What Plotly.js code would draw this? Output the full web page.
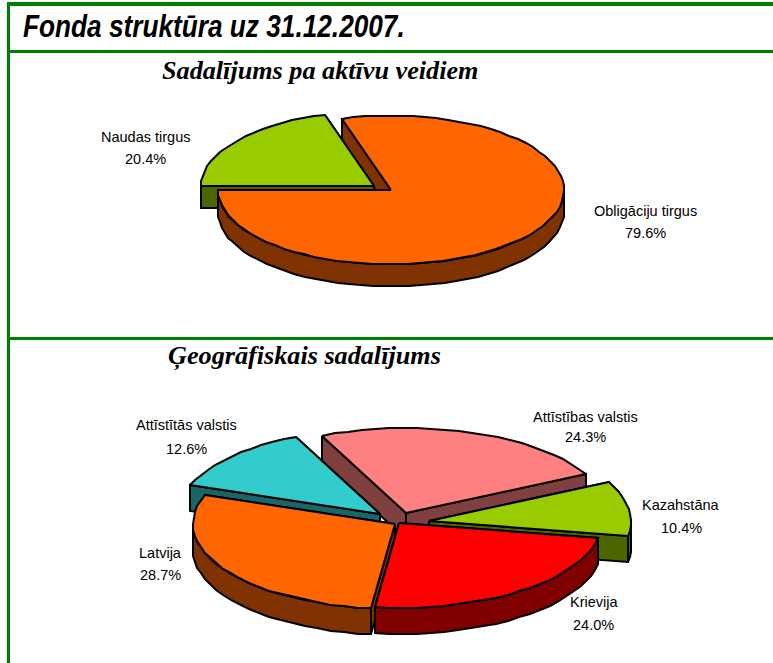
<!DOCTYPE html>
<html>
<head>
<meta charset="utf-8">
<script src="https://cdn.plot.ly/plotly-3.0.1.min.js"></script>
<style>html,body{margin:0;padding:0;background:#fff;overflow:hidden}</style>
</head>
<body>
<div id="chart" style="width:773px;height:663px"></div>
<script>
// ---- data ----
const assetCategories = ['Obligāciju tirgus', 'Naudas tirgus'];
const assetValues = [79.6, 20.4];
const geoCategories = ['Attīstības valstis', 'Kazahstāna', 'Krievija', 'Latvija', 'Attīstītās valstis'];
const geoValues = [24.3, 10.4, 24.0, 28.7, 12.6];

// ---- styles ----
const assetTop = ['#FF6600', '#99CC00'];
const assetWall = ['#803300', '#4D6600'];
const geoTop = ['#FF8080', '#99CC00', '#FF0000', '#FF6600', '#33CCCC'];
const geoWall = ['#804040', '#4D6600', '#800000', '#803300', '#1A6666'];
const frameColor = '#008000';

// ---- pie layout (axis units equal page pixels) ----
const assetPie = {cx: 391, cy: 190, rx: 173, ry: 74.5, depth: 22, start: 106.6, pull: [[0, 0], [-17, -4]]};
const geoPie = {cx: 397, cy: 519, rx: 202, ry: 85, depth: 26, start: 114.6,
                pull: [[9, -6], [32, 2], [2, 4], [-2, 5], [-17, -5]]};
const assetLabelPos = [[645.5, 211, 233], [145.5, 137, 159]];
const geoLabelPos = [[585.5, 417, 437], [681, 505, 528], [593.5, 602, 625], [160, 553, 575], [186.5, 425, 449]];

function sliceShapes(pie, values) {
  const total = values.reduce((a, b) => a + b, 0);
  let a0 = pie.start;
  return values.map((v, i) => {
    const a1 = a0 - v / total * 360;
    const ox = pie.cx + pie.pull[i][0], oy = pie.cy + pie.pull[i][1];
    const pt = (deg, drop) => {
      const t = deg * Math.PI / 180;
      return [Math.round(ox + pie.rx * Math.cos(t)), Math.round(oy - pie.ry * Math.sin(t)) + drop];
    };
    const arc = (from, to, drop) => {
      const n = Math.max(1, Math.ceil(Math.abs(from - to) / 4)), out = [];
      for (let k = 0; k <= n; k++) out.push(pt(from + (to - from) * k / n, drop));
      return out;
    };
    const apex = [ox, oy], d = pie.depth;
    const cut = deg => [apex, pt(deg, 0), pt(deg, d), [ox, oy + d]];
    // outer wall: the part of the rim on the viewer's side
    const walls = [];
    for (let base = -360; base <= 0; base += 360) {
      const from = Math.min(a0, base), to = Math.max(a1, base - 180);
      if (from > to) walls.push(arc(from, to, 0).concat(arc(to, from, d)));
    }
    const top = [apex].concat(arc(a0, a1, 0));
    // cut faces: the one reaching higher on the page is painted first
    const cuts = [cut(a0), cut(a1)].sort((p, q) => p[1][1] - q[1][1]);
    a0 = a1;
    return {cuts, walls, top};
  });
}

const traces = [];
function poly(points, fill) {
  const closed = points.concat([points[0]]);
  traces.push({
    type: 'scatter', mode: 'lines', x: closed.map(p => p[0]), y: closed.map(p => p[1]),
    fill: 'toself', fillcolor: fill, line: {color: '#000', width: 2},
    hoverinfo: 'skip', showlegend: false
  });
}
function drawCuts(s, color) { s.cuts.forEach(c => poly(c, color)); }
function drawBody(s, wall, top) { s.walls.forEach(w => poly(w, wall)); poly(s.top, top); }

// asset pie, painted back to front
const a = sliceShapes(assetPie, assetValues);
drawCuts(a[0], assetWall[0]);
drawCuts(a[1], assetWall[1]);
drawBody(a[1], assetWall[1], assetTop[1]);
drawBody(a[0], assetWall[0], assetTop[0]);

// geographic pie, painted back to front
const g = sliceShapes(geoPie, geoValues);
[0, 4, 1, 3, 2].forEach(i => {
  drawCuts(g[i], geoWall[i]);
  drawBody(g[i], geoWall[i], geoTop[i]);
});

// ---- text ----
const annotations = [];
function label(cat, val, pos) {
  const font = {family: '"Liberation Sans", Arial, sans-serif', size: 14.5, color: '#000'};
  annotations.push({xref: 'x', yref: 'y', x: pos[0], y: pos[1], text: cat, showarrow: false, font});
  annotations.push({xref: 'x', yref: 'y', x: pos[0], y: pos[2], text: val.toFixed(1) + '%', showarrow: false, font});
}
assetCategories.forEach((c, i) => label(c, assetValues[i], assetLabelPos[i]));
geoCategories.forEach((c, i) => label(c, geoValues[i], geoLabelPos[i]));
const subFont = {family: '"Liberation Serif", "Times New Roman", serif', size: 26.2, color: '#000'};
annotations.push({xref: 'x', yref: 'y', x: 320, y: 70, showarrow: false, font: subFont,
                  text: '<b><i>Sadalījums pa aktīvu veidiem</i></b>'});
annotations.push({xref: 'x', yref: 'y', x: 304, y: 356, showarrow: false, font: subFont,
                  text: '<b><i>Ģeogrāfiskais sadalījums</i></b>'});

const frame = (x0, y0, x1, y1, w) => ({type: 'line', xref: 'x', yref: 'y', x0, y0, x1, y1,
                                       line: {color: frameColor, width: w}, layer: 'below'});

const titleLeft = 23, titleSqueeze = 381 / 465;
const layout = {
  width: 773, height: 663,
  margin: {l: 0, r: 0, t: 0, b: 0},
  paper_bgcolor: '#fff', plot_bgcolor: '#fff',
  showlegend: false,
  title: {
    text: '<b><i>Fonda struktūra uz 31.12.2007.</i></b>',
    x: titleLeft / 773, xanchor: 'left', xref: 'paper',
    y: 1 - 26 / 663, yanchor: 'middle', yref: 'container',
    font: {family: '"Liberation Sans", Arial, sans-serif', size: 32, color: '#000'}
  },
  xaxis: {range: [0, 773], visible: false, fixedrange: true},
  yaxis: {range: [663, 0], visible: false, fixedrange: true},
  annotations,
  shapes: [frame(7, 4, 773, 4, 4), frame(8, 51.5, 773, 51.5, 3), frame(8, 338.5, 773, 338.5, 3), frame(8.5, 2, 8.5, 663, 3)]
};
Plotly.newPlot('chart', traces, layout, {displayModeBar: false, staticPlot: true}).then(() => {
  // the reference's title face is condensed: narrow the real title text about its left edge
  const t = document.querySelector('.gtitle');
  if (t) t.setAttribute('transform', `translate(${titleLeft} 0) scale(${titleSqueeze} 1) translate(${-titleLeft} 0)`);
});
</script>
</body>
</html>
